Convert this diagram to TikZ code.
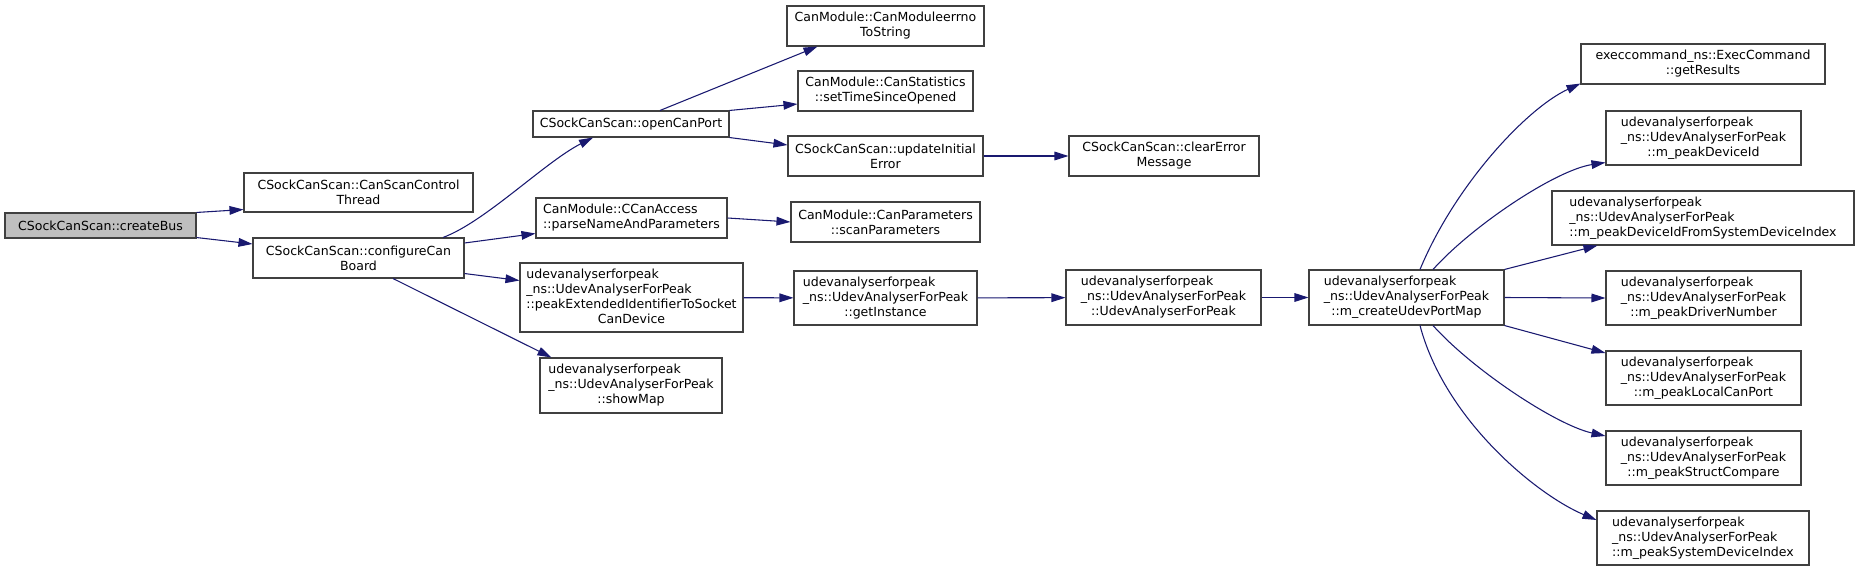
\documentclass[tikz,border=0pt]{standalone}
\usepackage{fontspec}
\setmainfont{DejaVu Sans}
\usepackage{xcolor}
\usepackage{tikz}
\usetikzlibrary{arrows.meta,calc}

\definecolor{midblue}{HTML}{191970}
\newcommand{\lft}[2]{\begin{tabular}{@{}l@{}}#1\\\multicolumn{1}{@{}c@{}}{#2}\end{tabular}}
\newcommand{\udv}[1]{\lft{udevanalyserforpeak\\\_ns::UdevAnalyserForPeak}{#1}}

\begin{document}
\begin{tikzpicture}[x=0.75pt,y=-0.75pt,
    fn/.style={draw=black!75,fill=white,line width=0.8pt,inner sep=0pt,align=center,
        font=\fontsize{9.4}{11.25}\selectfont},
    sz/.style 2 args={minimum width=#1*0.75pt,minimum height=#2*0.75pt},
    root/.style={fill=black!25},
    call/.style={draw=midblue,line width=0.8pt,-{Triangle[length=10.5pt,width=6.5pt]}}]
    \useasboundingbox (0,0) rectangle (1860,571);
    \renewcommand{\arraystretch}{1}

    \node[fn,root,sz={191}{25}] (createBus) at (100.5,225.5) {CSockCanScan::createBus};
    \node[fn,sz={229}{39}] (ctrlThread) at (358.5,192.5) {CSockCanScan::CanScanControl\\Thread};
    \node[fn,sz={211}{40}] (configure) at (358.5,258) {CSockCanScan::configureCan\\Board};

    \node[fn,sz={196}{26}] (openPort) at (631,124) {CSockCanScan::openCanPort};
    \node[fn,sz={191}{40}] (parseName) at (631.5,218) {\lft{CanModule::CCanAccess}{::parseNameAndParameters}};
    \node[fn,sz={223}{69}] (peakExt) at (631.5,297.5) {\lft{udevanalyserforpeak\\\_ns::UdevAnalyserForPeak\\::peakExtendedIdentifierToSocket}{CanDevice}};
    \node[fn,sz={182}{55}] (showMap) at (631,385.5) {\udv{::showMap}};

    \node[fn,sz={197}{40}] (errnoStr) at (885.5,26) {CanModule::CanModuleerrno\\ToString};
    \node[fn,sz={175}{40}] (setTime) at (885.5,91) {CanModule::CanStatistics\\::setTimeSinceOpened};
    \node[fn,sz={195}{40}] (updErr) at (885.5,156) {CSockCanScan::updateInitial\\Error};
    \node[fn,sz={189}{40}] (scanPar) at (885.5,222) {CanModule::CanParameters\\::scanParameters};
    \node[fn,sz={183}{54}] (getInst) at (885.5,298) {\udv{::getInstance}};

    \node[fn,sz={190}{40}] (clearErr) at (1164,156) {CSockCanScan::clearError\\Message};
    \node[fn,sz={195}{55}] (udevCtor) at (1163.5,297.5) {\udv{::UdevAnalyserForPeak}};
    \node[fn,sz={195}{55}] (portMap) at (1406.5,297.5) {\udv{::m\_createUdevPortMap}};

    \node[fn,sz={244}{40}] (getRes) at (1703,64) {execcommand\_ns::ExecCommand\\::getResults};
    \node[fn,sz={195}{54}] (devId) at (1703.5,138) {\udv{::m\_peakDeviceId}};
    \node[fn,sz={302}{54}] (devIdSys) at (1703,218) {\udv{::m\_peakDeviceIdFromSystemDeviceIndex}};
    \node[fn,sz={195}{54}] (drvNum) at (1703.5,298) {\udv{::m\_peakDriverNumber}};
    \node[fn,sz={195}{54}] (localPort) at (1703.5,378) {\udv{::m\_peakLocalCanPort}};
    \node[fn,sz={195}{54}] (structCmp) at (1703.5,458) {\udv{::m\_peakStructCompare}};
    \node[fn,sz={212}{54}] (sysIdx) at (1703,538) {\udv{::m\_peakSystemDeviceIndex}};

    \draw[call] (createBus.north east) -- ($(ctrlThread.south west)+(0,-3)$);
    \draw[call] ($(createBus.south east)+(0,-1)$) -- ($(configure.west)+(0,-14)$);

    \draw[call] ($(configure.north)+(84.5,0)$) .. controls (485,222) and (545,162) .. ($(openPort.south)+(-38,0)$);
    \draw[call] ($(configure.east)+(0,-15)$) -- ($(parseName.south west)+(0,-5)$);
    \draw[call] ($(configure.south east)+(0,-5)$) -- ($(peakExt.west)+(0,-17)$);
    \draw[call] ($(configure.south)+(34.5,0)$) -- ($(showMap.north west)+(12,0)$);

    \draw[call] ($(openPort.north)+(29,0)$) -- ($(errnoStr.south west)+(31,0)$);
    \draw[call] (openPort.north east) -- ($(setTime.west)+(0,13)$);
    \draw[call] (openPort.south east) -- ($(updErr.west)+(0,-11)$);
    \draw[call] (updErr) -- (clearErr);
    \draw[call] (parseName.east) -- (scanPar.west);
    \draw[call] (peakExt) -- (getInst);
    \draw[call] (getInst) -- (udevCtor);
    \draw[call] (udevCtor) -- (portMap);

    \draw[call] ($(portMap.north)+(13.5,0)$) .. controls (1455,185) and (1527,108) .. ($(getRes.south west)+(0,-1)$);
    \draw[call] ($(portMap.north)+(26.5,0)$) .. controls (1473,225) and (1556,170) .. ($(devId.south west)+(0,-3)$);
    \draw[call] (portMap.north east) -- ($(devIdSys.south west)+(46,0)$);
    \draw[call] (portMap.east) -- (drvNum.west);
    \draw[call] (portMap.south east) -- ($(localPort.west)+(0,-25)$);
    \draw[call] ($(portMap.south)+(26.5,0)$) .. controls (1473,370) and (1556,425) .. ($(structCmp.west)+(0,-22)$);
    \draw[call] ($(portMap.south)+(13.5,0)$) .. controls (1445,420) and (1537,495) .. ($(sysIdx.west)+(0,-18)$);
\end{tikzpicture}
\end{document}
